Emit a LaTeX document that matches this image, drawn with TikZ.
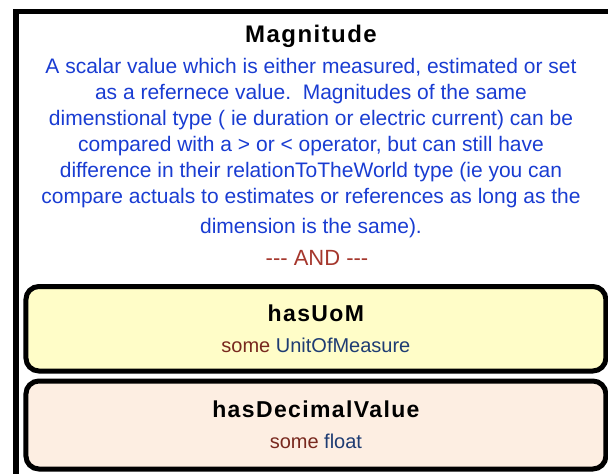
\documentclass[tikz,border=0pt]{standalone}
\usepackage{fontspec}
\setmainfont{Liberation Sans}
\usepackage{tikz}
\usetikzlibrary{positioning}
\definecolor{descblue}{RGB}{25,60,210}
\definecolor{andred}{RGB}{165,55,45}
\definecolor{somered}{RGB}{120,40,30}
\definecolor{typeblue}{RGB}{30,60,115}
\definecolor{uomfill}{RGB}{255,253,200}
\definecolor{valfill}{RGB}{253,238,226}
\newcommand{\spacedbf}[2]{{\bfseries\addfontfeatures{LetterSpace=#1}#2}}

\begin{document}
\begin{tikzpicture}[x=1pt, y=-1pt,
    propbox/.style={draw, line width=5pt, rounded corners=13pt, align=center,
      minimum width=580pt, font=\fontsize{20}{31}\selectfont}]
					\useasboundingbox (0,0) rectangle (608,474);
					\clip (0,0) rectangle (608,474);
					\draw[line width=5.5pt] (16,11.3) rectangle (640,500);
					\node[anchor=base, font=\fontsize{24}{26}\selectfont] (title) at (311,42) {\spacedbf{6}{Magnitude}};
					\node[anchor=north, align=center, text=descblue, font=\fontsize{21}{26}\selectfont, inner sep=0pt] (desc) at (311,58.5) {A scalar value which is either measured, estimated or set\\ as a refernece value.\ \ Magnitudes of the same\\ dimenstional type ( ie duration or electric current) can be\\ compared with a > or < operator, but can still have\\ difference in their relationToTheWorld type (ie you can\\ compare actuals to estimates or references as long as the\\[4pt] dimension is the same).};
					\node[anchor=base, text=andred, font=\fontsize{22}{26}\selectfont] (andsep) at (317,265) {{-}{-}{-} AND {-}{-}{-}};
					\node[propbox, fill=uomfill, minimum height=84.5pt] (uom) at (315.9,328.75) {\fontsize{23}{26}\selectfont\spacedbf{6}{hasUoM}\\ \textcolor{somered}{some} \textcolor{typeblue}{UnitOfMeasure}};
					\node[propbox, fill=valfill, minimum height=88pt] (decval) at (315.9,425) {\fontsize{23}{26}\selectfont\spacedbf{6}{hasDecimalValue}\\ \textcolor{somered}{some} \textcolor{typeblue}{float}};
				\end{tikzpicture}
\end{document}
